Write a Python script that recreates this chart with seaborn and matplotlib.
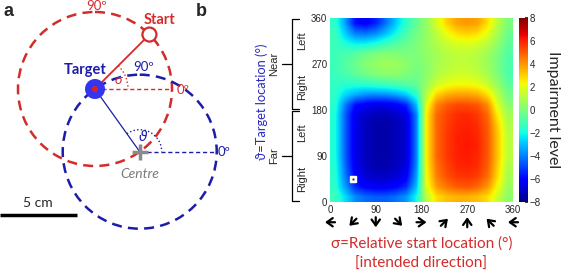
import matplotlib
matplotlib.use("Agg")
import matplotlib.pyplot as plt
import matplotlib.transforms as mtransforms
import numpy as np
import seaborn as sns
from matplotlib.patches import Circle, Arc

# impairment level, rows = target location (top = 350 deg), cols = start location
SIGMA = [10, 30, 50, 70, 90, 110, 130, 150, 170, 190, 210, 230, 250, 270, 290, 310, 330, 350]
THETA = [350, 330, 310, 290, 270, 250, 230, 210, 190, 170, 150, 130, 110, 90, 70, 50, 30, 10]
LEVEL = [
    [-1.5, -3.5, -5.8, -6.2, -5.5, -4.2, -2.8, -1.5, -0.5, 0.5, 1.8, 3.0, 3.8, 4.0, 3.8, 2.8, 1.2, 0.0],
    [-1.2, -2.8, -4.0, -4.2, -3.8, -3.0, -2.0, -1.0, -0.2, 0.5, 1.3, 2.2, 2.8, 3.0, 2.8, 2.0, 0.8, -0.3],
    [-1.2, -1.8, -2.2, -2.2, -1.8, -1.3, -0.8, -0.4, 0.0, 0.5, 1.0, 1.5, 1.8, 1.9, 1.7, 1.2, 0.4, -0.6],
    [-1.2, -1.0, -0.7, -0.3, 0.0, 0.2, 0.1, 0.0, 0.0, 0.4, 0.8, 1.1, 1.3, 1.3, 1.1, 0.7, 0.0, -0.8],
    [-1.2, -0.8, -0.3, 0.2, 0.5, 0.7, 0.6, 0.3, 0.0, 0.3, 0.8, 1.1, 1.3, 1.3, 1.1, 0.6, -0.1, -0.9],
    [-1.3, -1.0, -0.6, -0.2, 0.1, 0.3, 0.3, 0.1, -0.2, 0.3, 1.0, 1.4, 1.6, 1.6, 1.4, 0.8, 0.0, -0.9],
    [-1.4, -1.6, -1.6, -1.6, -1.4, -1.2, -1.0, -0.8, -0.5, 0.6, 1.6, 2.1, 2.3, 2.3, 2.1, 1.5, 0.5, -0.6],
    [-1.5, -2.6, -3.3, -3.7, -3.8, -3.7, -3.4, -2.8, -1.5, 1.2, 3.0, 3.6, 3.8, 3.8, 3.6, 2.8, 1.2, -0.2],
    [-1.6, -4.0, -5.8, -6.3, -6.5, -6.5, -6.2, -5.4, -3.0, 2.0, 4.3, 5.0, 5.3, 5.3, 5.1, 4.2, 1.8, 0.3],
    [-1.8, -4.5, -6.5, -7.0, -7.2, -7.2, -7.0, -6.6, -4.0, 2.5, 4.8, 5.4, 5.8, 5.9, 5.6, 4.8, 2.5, 0.8],
    [-1.8, -4.5, -6.5, -7.1, -7.4, -7.4, -7.2, -6.8, -4.0, 2.5, 4.8, 5.5, 5.9, 6.0, 5.8, 5.0, 3.0, 1.0],
    [-1.8, -4.5, -6.5, -7.1, -7.4, -7.4, -7.2, -6.8, -4.0, 2.5, 4.8, 5.6, 6.0, 6.1, 5.9, 5.1, 3.2, 1.2],
    [-1.8, -4.5, -6.5, -7.1, -7.4, -7.4, -7.2, -6.8, -4.0, 2.5, 4.8, 5.6, 6.0, 6.2, 6.0, 5.1, 3.2, 1.2],
    [-1.8, -4.5, -6.5, -7.1, -7.4, -7.4, -7.2, -6.8, -4.0, 2.5, 4.8, 5.6, 6.0, 6.1, 5.9, 5.1, 3.2, 1.2],
    [-1.7, -4.3, -6.4, -7.0, -7.3, -7.3, -7.1, -6.6, -3.8, 2.4, 4.6, 5.4, 5.9, 6.0, 5.8, 5.0, 3.0, 1.0],
    [-1.6, -4.0, -6.0, -6.8, -7.0, -7.0, -6.8, -6.2, -3.5, 2.2, 4.4, 5.2, 5.6, 5.7, 5.5, 4.7, 2.8, 0.8],
    [-1.5, -3.5, -5.4, -6.1, -6.3, -6.3, -6.0, -5.3, -3.0, 2.0, 3.9, 4.6, 5.0, 5.1, 4.8, 4.0, 2.3, 0.6],
    [-1.2, -2.5, -3.8, -4.3, -4.5, -4.5, -4.2, -3.6, -2.0, 1.2, 2.8, 3.3, 3.5, 3.5, 3.3, 2.8, 1.5, 0.3],
]
MARK_SIGMA, MARK_THETA = 45, 45
X_TICKS = [0, 90, 180, 270, 360]
ARROW_POS = [0, 45, 90, 135, 180, 225, 270, 315, 360]
ARROW_DIR = [180, 225, 270, 315, 0, 45, 90, 135, 180]  # pointing angle, deg
CBAR_TICKS = [-8, -6, -4, -2, 0, 2, 4, 6, 8]

RED = "#d42b2b"
BLUE = "#1c1ca8"
LABEL_FONT = ["Lato", "DejaVu Sans"]
TICK_FONT = ["Liberation Sans", "DejaVu Sans"]

sns.set_theme(style="white")
plt.rcParams["font.family"] = TICK_FONT

fig = plt.figure(figsize=(5.67, 2.72), dpi=100)

# ---- panel a: geometry sketch in pixel coordinates
ax0 = fig.add_axes([0, 0, 1, 1])
ax0.set_xlim(0, 567)
ax0.set_ylim(272, 0)
ax0.axis("off")

R = 77
tx, ty = 95, 89
start_ang = np.deg2rad(45)
targ_ang = np.deg2rad(125.5)
sx, sy = tx + R * np.cos(start_ang), ty - R * np.sin(start_ang)
cx, cy = tx - R * np.cos(targ_ang), ty + R * np.sin(targ_ang)

ax0.add_patch(Circle((tx, ty), R, fill=False, ec=RED, lw=1.8, ls=(0, (4, 2.5))))
ax0.add_patch(Circle((cx, cy), R, fill=False, ec=BLUE, lw=1.8, ls=(0, (4, 2.5))))
ax0.plot([tx, tx + R], [ty, ty], color=RED, lw=1.0, ls=(0, (3, 2)))
ax0.plot([cx, cx + R], [cy, cy], color=BLUE, lw=1.0, ls=(0, (3, 2)))
ax0.plot([tx, sx], [ty, sy], color=RED, lw=1.3)
ax0.plot([cx, tx], [cy, ty], color=BLUE, lw=0.9)
ax0.add_patch(Arc((tx, ty), 66, 66, theta1=-45, theta2=0, color=RED, lw=1.0, ls=":"))
ax0.add_patch(Arc((cx, cy), 44, 44, theta1=-125.5, theta2=0, color=BLUE, lw=1.0, ls=":"))
ax0.add_patch(Circle((sx, sy), 7, fc="white", ec=RED, lw=1.6, zorder=5))
ax0.add_patch(Circle((tx, ty), 10, fc="#3535f0", ec="none", zorder=5))
ax0.add_patch(Circle((tx, ty), 3, fc="#e02020", ec="none", zorder=6))
ax0.plot([cx], [cy], marker="+", ms=11, mew=2.5, color="#8a8a8a", zorder=6)
ax0.plot([0, 77], [215, 215], color="black", lw=2.5, solid_capstyle="butt")

ax0.text(9, 12, "a", fontsize=13, fontweight="bold", ha="center", va="center",
         family=["Liberation Sans"])
ax0.text(201, 12, "b", fontsize=13, fontweight="bold", ha="center", va="center",
         family=["Liberation Sans"])
ax0.text(159, 20, "Start", color=RED, fontsize=10.5, fontweight="bold", ha="center",
         va="center", family=LABEL_FONT)
ax0.text(85, 70, "Target", color=BLUE, fontsize=10.5, fontweight="bold", ha="center",
         va="center", family=LABEL_FONT)
ax0.text(97, 6, "90º", color=RED, fontsize=9.5, ha="center", va="center", family=LABEL_FONT)
ax0.text(183, 90, "0º", color=RED, fontsize=9.5, ha="center", va="center", family=LABEL_FONT)
ax0.text(144, 67, "90º", color=BLUE, fontsize=9.5, ha="center", va="center", family=LABEL_FONT)
ax0.text(224, 152, "0º", color=BLUE, fontsize=9.5, ha="center", va="center", family=LABEL_FONT)
ax0.text(118, 80, "σ", color=RED, fontsize=10, style="italic", ha="center", va="center",
         family=LABEL_FONT)
ax0.text(143, 137, "ϑ", color=BLUE, fontsize=10, style="italic", ha="center", va="center",
         family=["DejaVu Sans"])
ax0.text(140, 174, "Centre", color="#7a7a7a", fontsize=10, style="italic", ha="center",
         va="center", family=LABEL_FONT)
ax0.text(38, 203, "5 cm", fontsize=10, ha="center", va="center", family=LABEL_FONT)

# ---- panel b: impairment heatmap
ax = fig.add_axes([330 / 567, 70 / 272, 183 / 567, 184 / 272])
im = ax.imshow(np.array(LEVEL), cmap=plt.get_cmap("jet"), vmin=-8, vmax=8, aspect="auto",
               interpolation="bilinear", extent=[0, 360, 0, 360], origin="upper")
ax.plot([MARK_SIGMA], [MARK_THETA], marker="s", ms=5, mfc="white", mec="white")
ax.plot([MARK_SIGMA], [MARK_THETA], marker="s", ms=1.5, mfc="#333", mec="none")
ax.set_xlim(0, 360)
ax.set_ylim(0, 360)
ax.set_xticks(X_TICKS)
ax.set_yticks(X_TICKS)
ax.tick_params(labelsize=7, length=2, direction="in", pad=2)
for s in ax.spines.values():
    s.set_visible(False)

xt = ax.get_xaxis_transform()
half = 3.6  # points
for pos, ang in zip(ARROW_POS, ARROW_DIR):
    dx, dy = half * np.cos(np.deg2rad(ang)), half * np.sin(np.deg2rad(ang))
    head = mtransforms.offset_copy(xt, fig=fig, x=dx, y=dy, units="points")
    tail = mtransforms.offset_copy(xt, fig=fig, x=-dx, y=-dy, units="points")
    ax.annotate("", xy=(pos, -0.11), xycoords=head, xytext=(pos, -0.11),
                textcoords=tail, annotation_clip=False,
                arrowprops=dict(arrowstyle="->,head_length=0.35,head_width=0.25",
                                lw=1.6, color="black", shrinkA=0, shrinkB=0))
ax.text(180, -0.225, "σ=Relative start location (°)", transform=xt, ha="center",
        va="center", color=RED, fontsize=11, family=LABEL_FONT, clip_on=False)
ax.text(180, -0.335, "[intended direction]", transform=xt, ha="center", va="center",
        color=RED, fontsize=11, family=LABEL_FONT, clip_on=False)

yt = ax.get_yaxis_transform()
ax.text(-0.375, 196, "ϑ=Target location (°)", transform=yt, rotation=90, ha="center",
        va="center", color="#2a2ac0", fontsize=9.3, family=LABEL_FONT, clip_on=False)
bx, bend = -0.207, -0.172
for lo, hi, grp in [(0, 180, "Far"), (180, 360, "Near")]:
    a, b = lo + 2, hi - 2
    ax.plot([bend, bx, bx, bend], [a, a, b, b], transform=yt, color="black", lw=0.9,
            clip_on=False)
    mid = (lo + hi) / 2
    ax.plot([-0.262, bx], [mid, mid], transform=yt, color="black", lw=0.9, clip_on=False)
    ax.text(-0.305, mid, grp, transform=yt, rotation=90, ha="center", va="center",
            fontsize=8, family=TICK_FONT, clip_on=False)
    ax.text(-0.155, lo + 45, "Right", transform=yt, rotation=90, ha="center", va="center",
            fontsize=8, family=TICK_FONT, clip_on=False)
    ax.text(-0.155, lo + 135, "Left", transform=yt, rotation=90, ha="center", va="center",
            fontsize=8, family=TICK_FONT, clip_on=False)

cax = fig.add_axes([519 / 567, 70 / 272, 9 / 567, 184 / 272])
cb = fig.colorbar(im, cax=cax, ticks=CBAR_TICKS)
cb.outline.set_visible(False)
cb.ax.tick_params(labelsize=7, length=2, direction="in", pad=1)
cax.text(3.8, 0.5, "Impairment level", transform=cax.transAxes, rotation=270,
         ha="center", va="center", fontsize=11.5, family=LABEL_FONT)

fig.savefig("out.png", dpi=100)
